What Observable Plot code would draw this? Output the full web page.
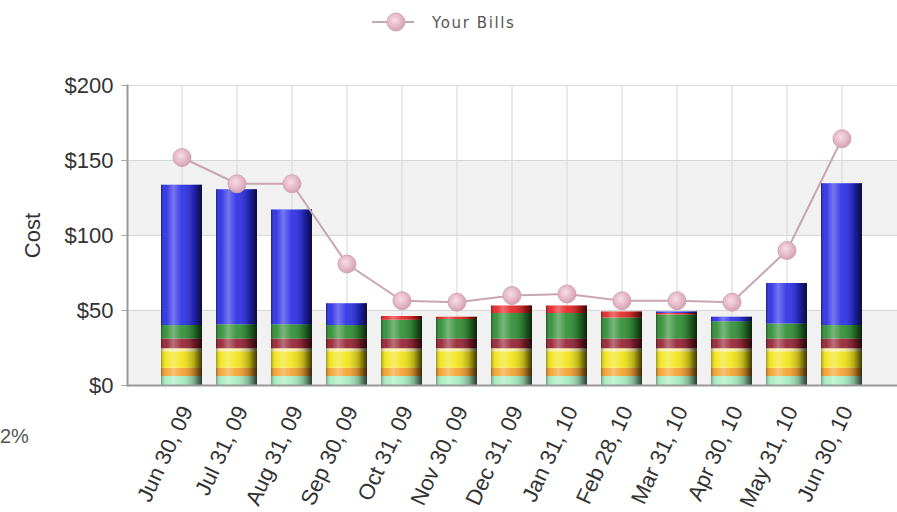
<!DOCTYPE html>
<html>
<head>
<meta charset="utf-8">
<script src="https://cdn.jsdelivr.net/npm/d3@7"></script>
<script src="https://cdn.jsdelivr.net/npm/@observablehq/plot@0.6"></script>
<style>
  body { margin: 0; background: #fff; width: 897px; height: 512px; overflow: hidden; position: relative; font-family: "Liberation Sans", Arial, sans-serif; }
  #legend { height: 45px; position: relative; }
  #legend svg { position: absolute; left: 368px; top: 10px; }
  #legend span { position: absolute; left: 432px; top: 14px; font-family: "DejaVu Sans", Verdana, sans-serif; font-size: 15px; color: #555; letter-spacing: 1.6px; }
  #pct { position: absolute; left: 0px; top: 425px; font-size: 20px; color: #555; }
  #defs { position: absolute; width: 0; height: 0; }
</style>
</head>
<body>
<svg id="defs" width="0" height="0">
  <defs>
    <linearGradient id="cyl" x1="0" x2="1" y1="0" y2="0">
      <stop offset="0" stop-color="#000" stop-opacity="0.35"/>
      <stop offset="0.12" stop-color="#fff" stop-opacity="0.05"/>
      <stop offset="0.3" stop-color="#fff" stop-opacity="0.35"/>
      <stop offset="0.5" stop-color="#fff" stop-opacity="0.08"/>
      <stop offset="0.8" stop-color="#000" stop-opacity="0.25"/>
      <stop offset="1" stop-color="#000" stop-opacity="0.75"/>
    </linearGradient>
    <radialGradient id="pinkdot" cx="0.42" cy="0.4" r="0.6">
      <stop offset="0" stop-color="#f6dde5"/>
      <stop offset="0.6" stop-color="#e6b9c8"/>
      <stop offset="1" stop-color="#d4a2b4"/>
    </radialGradient>
  </defs>
</svg>
<div id="legend">
  <svg width="50" height="26">
    <line x1="4" x2="46" y1="12" y2="12" stroke="#c6a6b2" stroke-width="2"/>
    <circle cx="28" cy="12" r="9" fill="url(#pinkdot)" stroke="#d0a8b6" stroke-width="1"/>
  </svg>
  <span>Your Bills</span>
</div>
<div id="chart"></div>
<div id="pct">2%</div>
<script>
const dates = ["Jun 30, 09","Jul 31, 09","Aug 31, 09","Sep 30, 09","Oct 31, 09","Nov 30, 09","Dec 31, 09","Jan 31, 10","Feb 28, 10","Mar 31, 10","Apr 30, 10","May 31, 10","Jun 30, 10"];
const mint    = [6,6,6,6,6,6,6,6,6,6,6,6,6];
const orange  = [5.5,5.5,5.5,5.5,5.5,5.5,5.5,5.5,5.5,5.5,5.5,5.5,5.5];
const yellow  = [11,11,11,11,11,11,11,11,11,11,11,11,11];
const cream   = [2,2,2,2,2,2,2,2,2,2,2,2,2];
const darkRed = [6.5,6.5,6.5,6.5,6.5,6.5,6.5,6.5,6.5,6.5,6.5,6.5,6.5];
const green   = [9,9.5,9.5,9,12.5,13,17,17,14,16,11.5,10,9];
const red     = [0,0,0,0,2.5,1.5,5,5,4,1,0,0,0];
const blue    = [93.5,90,76.5,14.5,0,0,0,0,0,1,3,27,94.5];
const bills   = [152,134.5,134.5,81,56.5,55.5,60,61,56.5,56.5,55.5,90,164.5];
const yTicks  = [0,50,100,150,200];

const layerNames  = ["mint","orange","yellow","cream","darkRed","green","red","blue"];
const layerValues = [mint,orange,yellow,cream,darkRed,green,red,blue];
const layerColors = ["#a6ecbe","#f4a22c","#f2e418","#f6eea0","#962232","#2f8f34","#e42424","#2a2ee6"];

const rows = [];
dates.forEach((d, i) => layerNames.forEach((n, j) => rows.push({date: d, layer: n, value: layerValues[j][i]})));
const totals = dates.map((d, i) => ({date: d, total: layerValues.reduce((s, v) => s + v[i], 0)}));
const billRows = dates.map((d, i) => ({date: d, bill: bills[i]}));
const bands = [{y1: yTicks[0], y2: yTicks[1]}, {y1: yTicks[2], y2: yTicks[3]}];

const chart = Plot.plot({
  width: 897, height: 467,
  marginLeft: 127, marginRight: 0, marginTop: 40, marginBottom: 127,
  style: {fontFamily: "Liberation Sans, Arial, sans-serif", background: "transparent"},
  x: {type: "band", domain: dates, paddingInner: 0.25, paddingOuter: 0.625, label: null},
  y: {domain: [0, 200], label: null},
  color: {domain: layerNames, range: layerColors},
  marks: [
    Plot.rectY(bands, {y1: "y1", y2: "y2", fill: "#f1f1f1"}),
    Plot.gridY(yTicks, {stroke: "#d6d6d6", strokeOpacity: 1}),
    Plot.gridX(dates, {stroke: "#d6d6d6", strokeOpacity: 1}),
    Plot.barY(rows, {x: "date", y: "value", fill: "layer", order: layerNames}),
    Plot.barY(totals, {x: "date", y: "total", fill: "url(#cyl)"}),
    Plot.ruleY([0], {stroke: "#9a9a9a", strokeWidth: 2}),
    Plot.frame({anchor: "left", stroke: "#9a9a9a", strokeWidth: 2}),
    Plot.line(billRows, {x: "date", y: "bill", stroke: "#c9a5b2", strokeWidth: 2}),
    Plot.dot(billRows, {x: "date", y: "bill", r: 9, fill: "url(#pinkdot)", stroke: "#cfa6b5", strokeWidth: 1}),
    Plot.axisY(yTicks, {tickFormat: d => "$" + d, tickSize: 6, tickPadding: 8, fontSize: 22, stroke: "#aaa", fill: "#333",
      label: "Cost", labelArrow: "none", labelAnchor: "center", labelOffset: 103}),
    Plot.axisX({tickRotate: -65, tickSize: 0, tickPadding: 22, dx: 5, fontSize: 22, fill: "#333", label: null})
  ]
});
document.getElementById("chart").appendChild(chart);
</script>
</body>
</html>
